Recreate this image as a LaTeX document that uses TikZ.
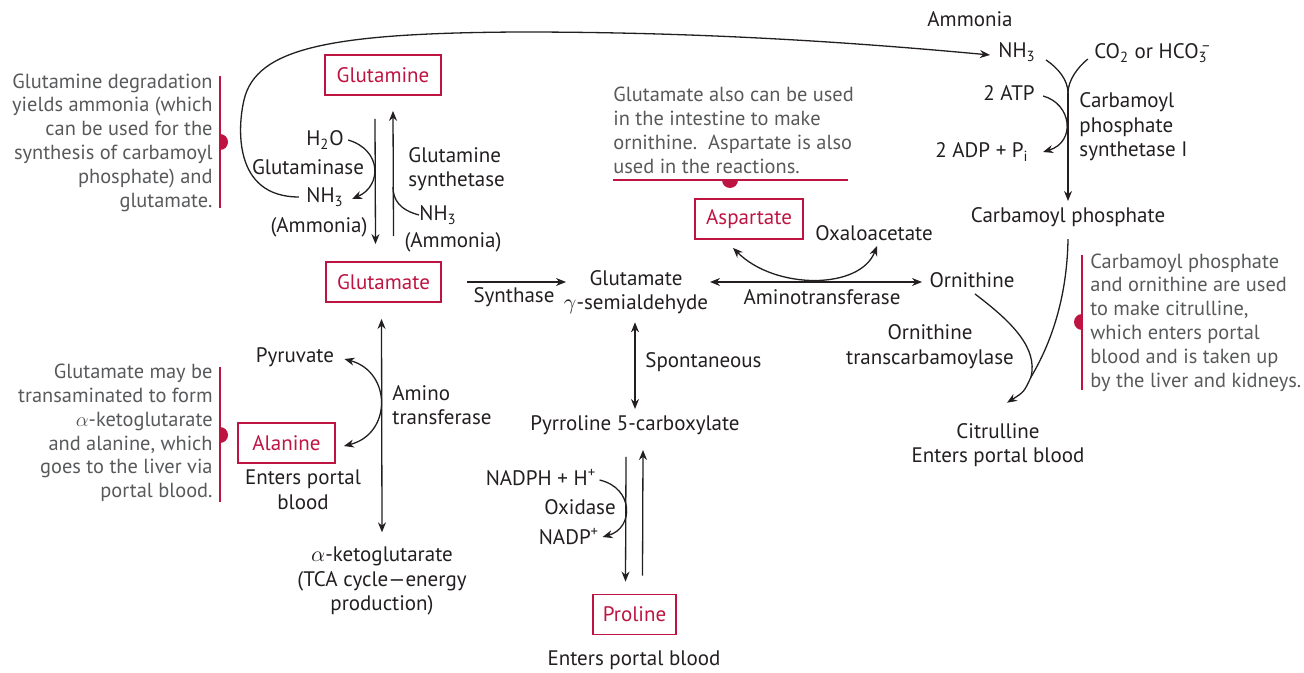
\documentclass[tikz,border=0pt]{standalone}
\usepackage{fontspec}
\setmainfont{PT Sans}
\usetikzlibrary{arrows.meta}
\definecolor{ink}{HTML}{231F20}
\definecolor{crim}{HTML}{BE1442}
\definecolor{notegray}{HTML}{58595B}
\newcommand{\molfont}{\fontsize{10.5}{12.3}\selectfont}
\begin{document}
\begin{tikzpicture}[x=0.5pt,y=-0.5pt,
  txt/.style={font=\molfont, text=ink, inner sep=0pt, align=center},
  note/.style={font=\fontsize{10.2}{11.9}\selectfont, text=notegray, inner sep=0pt},
  aa/.style={draw=crim, line width=0.9pt, text=crim, font=\molfont, inner sep=0pt, minimum height=20pt},
  link/.style={draw=ink, line width=0.65pt},
  arr/.style={link, -{Stealth[length=5pt,width=4pt,inset=1.6pt]}},
  darr/.style={link, {Stealth[length=5pt,width=4pt,inset=1.6pt]}-{Stealth[length=5pt,width=4pt,inset=1.6pt]}},
  noteline/.style={draw=crim, line width=1pt}
]
\useasboundingbox (0,0) rectangle (1304,673);

% ---- amino acid boxes
\node[aa, minimum width=58pt] (gln) at (383,75) {Glutamine};
\node[aa, minimum width=57.5pt] (glu) at (383.5,282) {Glutamate};
\node[aa, minimum width=54pt] (asp) at (749,219) {Aspartate};
\node[aa, minimum width=48.5pt] (ala) at (286.5,443) {Alanine};
\node[aa, minimum width=41.5pt] (pro) at (634.5,614.5) {Proline};

% ---- glutamine / glutamate interconversion
\node[txt] (h2o) at (325,140) {H\textsubscript{2}O};
\node[txt] (glnase) at (308,167) {Glutaminase};
\node[txt] (nh3a) at (325,197) {NH\textsubscript{3}};
\node[txt] (amma) at (319,227) {(Ammonia)};
\node[txt, anchor=west, align=left] (glnsyn) at (408,169) {Glutamine\\synthetase};
\node[txt] (nh3b) at (438,215) {NH\textsubscript{3}};
\node[txt] (ammb) at (453,242) {(Ammonia)};

\draw[arr] ([xshift=-4pt,yshift=-11.5pt]gln.south) -- ([xshift=-4pt,yshift=8.5pt]glu.north);
\draw[arr] ([xshift=5pt,yshift=12.5pt]glu.north) -- ([xshift=5pt,yshift=-7.5pt]gln.south);
\draw[arr] ([xshift=2pt]h2o.east) .. controls (382,150) and (382,186) .. ([xshift=4pt,yshift=-1pt]nh3a.east);
\draw[link] (nh3b.west) .. controls (400,210) and (393,200) .. (393,187);

% ---- ammonia to carbamoyl phosphate synthesis
\node[txt] (ammtop) at (970,19) {Ammonia};
\node[txt] (nh3c) at (1017,52) {NH\textsubscript{3}};
\node[txt] (co2) at (1153,53) {CO\textsubscript{2} or HCO\rlap{\textsubscript{3}}\textsuperscript{\,–}};
\node[txt] (atp) at (1009,93) {2 ATP};
\node[txt] (adp) at (982,152) {2 ADP + P\textsubscript{i}};
\node[txt, anchor=west, align=left] (cps) at (1079,127) {Carbamoyl\\phosphate\\synthetase I};
\node[txt] (carbp) at (1068,217) {Carbamoyl phosphate};
\coordinate (cpsjoin) at (1068,93);

\draw[arr] ([xshift=-3.5pt]nh3a.west) .. controls (232,197) and (238,125) .. (244,100)
  .. controls (256,48) and (330,33) .. (520,32)
  .. controls (700,32) and (850,42) .. ([xshift=-4pt,yshift=-1.5pt]nh3c.west);
\draw[link] ([xshift=5pt,yshift=-4pt]nh3c.east) .. controls (1058,68) and (1068,80) .. (cpsjoin);
\draw[link] ([xshift=-3pt,yshift=-3pt]co2.west) .. controls (1078,67) and (1068,80) .. (cpsjoin);
\draw[arr] (cpsjoin) -- ([yshift=3pt]carbp.north);
\draw[arr] ([xshift=4pt,yshift=-1.5pt]atp.east) .. controls (1072,104) and (1076,142) .. ([xshift=7pt]adp.east);

% ---- glutamate to ornithine / proline
\node[txt] (synth) at (514,297) {Synthase};
\node[txt] (gsa) at (636,292) {Glutamate\\$\gamma$-semialdehyde};
\node[txt] (amtf) at (822,297) {Aminotransferase};
\node[txt] (oxa) at (874,233) {Oxaloacetate};
\node[txt] (orn) at (972,280) {Ornithine};
\node[txt] (otc) at (930,346.5) {Ornithine\\transcarbamoylase};
\node[txt] (cit) at (998,445) {Citrulline\\Enters portal blood};
\node[txt, anchor=west] (spont) at (645,362) {Spontaneous};
\node[txt] (p5c) at (635,425) {Pyrroline 5-carboxylate};
\node[txt] (nadph) at (541,478) {NADPH + H\textsuperscript{+}};
\node[txt] (oxid) at (580,507) {Oxidase};
\node[txt] (nadp) at (569,537) {NADP\textsuperscript{+}};
\node[txt] (proent) at (634,660) {Enters portal blood};
\coordinate (synL) at (467,282);
\coordinate (synR) at (566,282);
\coordinate (amL) at (710,282);
\coordinate (amR) at (922,282);
\coordinate (citjoin) at (1031,377);

\draw[arr] (synL) -- (synR);
\draw[darr] (amL) -- (amR);
\draw[darr] ([xshift=-8pt,yshift=-4pt]asp.south) .. controls (775,290) and (860,290) .. (877,246);
\draw[darr] ([xshift=-0.5pt,yshift=-4pt]gsa.south) -- ([yshift=3pt]p5c.north);
\draw[arr] ([xshift=-4.5pt,yshift=-11pt]p5c.south) -- ([xshift=-4.5pt,yshift=6pt]pro.north);
\draw[arr] ([xshift=4pt,yshift=9pt]pro.north) -- ([xshift=4pt,yshift=-7.5pt]p5c.south);
\draw[arr] ([xshift=1.5pt,yshift=-1pt]nadph.east) .. controls (634,488) and (634,528) .. ([xshift=1.5pt]nadp.east);
\draw[link] ([xshift=1.5pt,yshift=-3pt]orn.south) .. controls (1012,322) and (1038,348) .. (citjoin);
\draw[link] ([yshift=-6pt]carbp.south) .. controls (1067,300) and (1050,345) .. (citjoin);
\draw[arr] (citjoin) .. controls (1024,392) .. ([xshift=4.5pt,yshift=10pt]cit.north);

% ---- glutamate / alanine transamination
\node[txt] (pyr) at (295,357) {Pyruvate};
\node[txt, anchor=west, align=left] (amtr) at (392,405) {Amino\\transferase};
\node[txt] (alaent) at (303,490) {Enters portal\\blood};
\node[txt] (akg) at (382,581) {$\alpha$-ketoglutarate\\(TCA cycle---energy\\production)};

\draw[darr] ([xshift=-1pt,yshift=-8pt]glu.south) -- ([yshift=7pt]akg.north);
\draw[darr] ([xshift=5pt,yshift=-1pt]pyr.east) .. controls (392,372) and (392,434) .. ([xshift=4pt,yshift=-1.5pt]ala.east);

% ---- side notes
\node[note, anchor=east, align=right] (noteA) at (213,142.5) {Glutamine degradation\\yields ammonia (which\\can be used for the\\synthesis of carbamoyl\\phosphate) and\\glutamate.};
\node[note, anchor=east, align=right] (noteB) at (213,433) {Glutamate may be\\transaminated to form\\$\alpha$-ketoglutarate\\and alanine, which\\goes to the liver via\\portal blood.};
\node[note, anchor=west, align=left] (noteC) at (613,130.5) {Glutamate also can be used\\in the intestine to make\\ornithine.\ \ Aspartate is also\\used in the reactions.};
\node[note, anchor=west, align=left] (noteD) at (1090,322.5) {Carbamoyl phosphate\\and ornithine are used\\to make citrulline,\\which enters portal\\blood and is taken up\\by the liver and kidneys.};

\draw[noteline] (220,76) -- (220,208);
\draw[noteline] (220,367) -- (220,502);
\draw[noteline] (613,180) -- (848,180);
\draw[noteline] (1082,255) -- (1082,390);
\begin{scope}
  \clip (220,120) rectangle (240,165);
  \fill[crim] (220,142) circle[radius=8];
\end{scope}
\begin{scope}
  \clip (220,410) rectangle (240,460);
  \fill[crim] (220,435) circle[radius=8];
\end{scope}
\begin{scope}
  \clip (710,180) rectangle (750,200);
  \fill[crim] (730,180) circle[radius=8];
\end{scope}
\begin{scope}
  \clip (1062,300) rectangle (1082,345);
  \fill[crim] (1082,322) circle[radius=8];
\end{scope}
\end{tikzpicture}
\end{document}
